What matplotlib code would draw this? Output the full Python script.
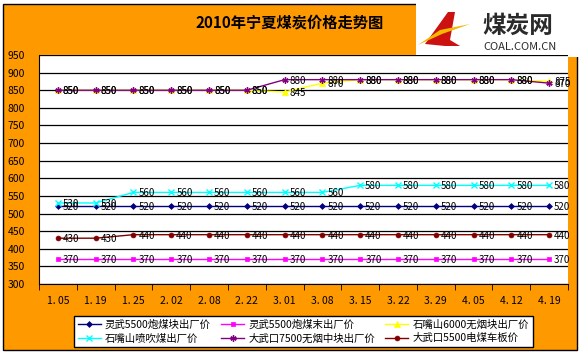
import matplotlib
matplotlib.use("Agg")
import matplotlib.pyplot as plt
from matplotlib.patches import Rectangle, Polygon
import numpy as np

plt.rcParams['font.family'] = ['Noto Sans CJK SC', 'DejaVu Sans']

# data
dates = ['1. 05', '1. 19', '1. 25', '2. 02', '2. 08', '2. 22', '3. 01',
         '3. 08', '3. 15', '3. 22', '3. 29', '4. 05', '4. 12', '4. 19']
lingwu_kuai = [520] * 14
lingwu_mo = [370] * 14
szs_6000 = [850, 850, 850, 850, 850, 850, 845, 870, 880, 880, 880, 880, 880, 875]
szs_penchui = [530, 530, 560, 560, 560, 560, 560, 560, 580, 580, 580, 580, 580, 580]
dwk_7500 = [850, 850, 850, 850, 850, 850, 880, 880, 880, 880, 880, 880, 880, 870]
dwk_5500 = [430, 430, 440, 440, 440, 440, 440, 440, 440, 440, 440, 440, 440, 440]

names = ['灵武5500炮煤块出厂价', '灵武5500炮煤末出厂价', '石嘴山6000无烟块出厂价',
         '石嘴山喷吹煤出厂价', '大武口7500无烟中块出厂价', '大武口5500电煤车板价']
series = [lingwu_kuai, lingwu_mo, szs_6000, szs_penchui, dwk_7500, dwk_5500]
colors = ['#000080', '#FF00FF', '#FFFF00', '#00FFFF', '#800080', '#800000']
markers = ['D', 's', '^', 'x', (6, 2, 0), 'o']
msizes = [3, 3.5, 4, 4, 4.5, 3.5]

W, H = 580, 357


def fx(px):
    return px / W


def fy(py):
    return 1 - py / H


fig = plt.figure(figsize=(5.8, 3.57), dpi=100)
fig.patch.set_facecolor('white')

# orange chart area (kept behind the axes)
fig.patches.append(Rectangle((fx(3), fy(350)), fx(574), 346 / H, transform=fig.transFigure,
                             facecolor='#FF9900', edgecolor='black', linewidth=1, zorder=-10))

ax = fig.add_axes([fx(39), fy(284), fx(568) - fx(39), (284 - 55) / H])
ax.set_facecolor('white')
x = np.arange(len(dates))

for vals, name, c, m, ms in zip(series, names, colors, markers, msizes):
    ax.plot(x, vals, color=c, marker=m, markersize=ms, linewidth=1, label=name,
            markeredgewidth=1 if m in ('x', (6, 2, 0)) else 0.5)
    for xi, v in zip(x, vals):
        ax.annotate(str(v), (xi, v), xytext=(5, -1), textcoords='offset pixels',
                    fontsize=7, va='center', ha='left', color='black')

ax.set_xlim(-0.5, 13.5)
ax.set_ylim(300, 950)
ax.set_yticks(np.arange(300, 951, 50))
ax.yaxis.grid(True, color='black', linewidth=0.9)
ax.set_axisbelow(True)
ax.set_xticks(x)
ax.set_xticklabels(dates, fontsize=7.5)
ax.set_xticks(np.arange(-0.5, 14, 1), minor=True)
ax.tick_params(axis='x', which='major', length=0, pad=9)
ax.tick_params(axis='x', which='minor', length=4, direction='out', color='black')
ax.tick_params(axis='y', length=0, pad=10, labelsize=7.5)
for s in ['top', 'right']:
    ax.spines[s].set_visible(False)
ax.spines['left'].set_color('black')
ax.spines['bottom'].set_color('black')

# title
fig.text(fx(290), fy(23), '2010年宁夏煤炭价格走势图', fontsize=11, fontweight='bold',
         ha='center', va='center')

# legend
handles, labels = ax.get_legend_handles_labels()
order = [0, 3, 1, 4, 2, 5]
leg = fig.legend([handles[i] for i in order], [labels[i] for i in order], ncol=3,
                 loc='upper left', bbox_to_anchor=(fx(74), fy(316)), fontsize=7.5,
                 frameon=True, fancybox=False, edgecolor='black', framealpha=1,
                 handlelength=2.2, handletextpad=0.4, columnspacing=1.0,
                 labelspacing=0.3, borderpad=0.35, borderaxespad=0)
leg.get_frame().set_linewidth(1)

# logo block
fig.patches.append(Rectangle((fx(416), fy(57)), fx(164), 57 / H, transform=fig.transFigure,
                             facecolor='white', edgecolor='none', zorder=-9))
fig.patches.append(Polygon([(fx(425), fy(44)), (fx(448), fy(12)), (fx(455), fy(12)),
                            (fx(450), fy(40)), (fx(460), fy(46)), (fx(445), fy(46))],
                           closed=True, transform=fig.transFigure, facecolor='#CC1111',
                           edgecolor='none', zorder=-8))
fig.patches.append(Polygon([(fx(418), fy(45)), (fx(440), fy(30)), (fx(470), fy(24)),
                            (fx(442), fy(34))],
                           closed=True, transform=fig.transFigure, facecolor='#F5B800',
                           edgecolor='none', zorder=-7))
fig.text(fx(518), fy(26), '煤炭网', fontsize=17, fontweight='bold', color='#2a2a2a',
         ha='center', va='center')
fig.text(fx(520), fy(47), 'COAL.COM.CN', fontsize=8, color='#2a2a2a',
         ha='center', va='center')

fig.savefig('out.png', dpi=100)
